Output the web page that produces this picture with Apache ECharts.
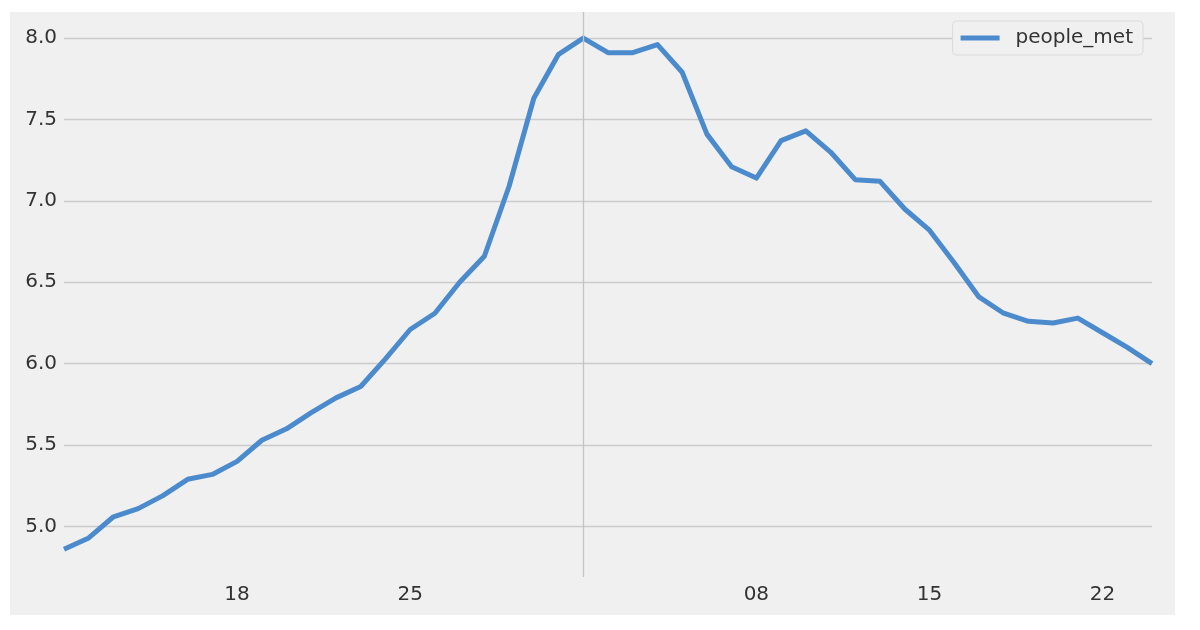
<!DOCTYPE html>
<html>
<head>
<meta charset="utf-8">
<script src="https://cdn.jsdelivr.net/npm/echarts@6/dist/echarts.min.js"></script>
<style>
  html, body { margin: 0; padding: 0; background: #ffffff; }
  #bg { position: absolute; left: 10px; top: 12px; width: 1165px; height: 603px; background: #f0f0f0; }
  #chart { position: absolute; left: 0; top: 0; width: 1200px; height: 630px; }
</style>
</head>
<body>
<div id="bg"></div>
<div id="chart"></div>
<script>
// Daily dates (2021-01-11 .. 2021-02-24)
const dates = [
  '2021-01-11','2021-01-12','2021-01-13','2021-01-14','2021-01-15','2021-01-16','2021-01-17',
  '2021-01-18','2021-01-19','2021-01-20','2021-01-21','2021-01-22','2021-01-23','2021-01-24',
  '2021-01-25','2021-01-26','2021-01-27','2021-01-28','2021-01-29','2021-01-30','2021-01-31',
  '2021-02-01','2021-02-02','2021-02-03','2021-02-04','2021-02-05','2021-02-06','2021-02-07',
  '2021-02-08','2021-02-09','2021-02-10','2021-02-11','2021-02-12','2021-02-13','2021-02-14',
  '2021-02-15','2021-02-16','2021-02-17','2021-02-18','2021-02-19','2021-02-20','2021-02-21',
  '2021-02-22','2021-02-23','2021-02-24'
];
const peopleMet = [
  4.86, 4.93, 5.06, 5.11, 5.19, 5.29, 5.32,
  5.40, 5.53, 5.60, 5.70, 5.79, 5.86, 6.03,
  6.21, 6.31, 6.50, 6.66, 7.09, 7.63, 7.90,
  8.00, 7.91, 7.91, 7.96, 7.79, 7.41, 7.21,
  7.14, 7.37, 7.43, 7.30, 7.13, 7.12, 6.95,
  6.82, 6.62, 6.41, 6.31, 6.26, 6.25, 6.28,
  6.19, 6.10, 6.00
];
const tickDates = ['2021-01-18','2021-01-25','2021-02-08','2021-02-15','2021-02-22'];
const monthStart = '2021-02-01';
const seriesName = 'people_met';

const chart = echarts.init(document.getElementById('chart'), null, { renderer: 'canvas' });
const font = 'DejaVu Sans';
chart.setOption({
  backgroundColor: 'transparent',
  animation: false,
  textStyle: { fontFamily: font },
  grid: { left: 64, right: 48, top: 12, bottom: 53, containLabel: false },
  legend: {
    right: 57, top: 21,
    data: [seriesName],
    icon: 'rect',
    itemWidth: 39, itemHeight: 5,
    padding: [7, 10, 7, 8],
    backgroundColor: '#f0f0f0',
    borderColor: '#dadada', borderWidth: 1, borderRadius: 4,
    textStyle: { fontFamily: font, fontSize: 20, color: '#333333', padding: [0, 0, 0, 11] }
  },
  xAxis: {
    type: 'category',
    data: dates,
    boundaryGap: false,
    axisLine: { show: false },
    axisTick: { show: false },
    splitLine: { show: false },
    axisLabel: {
      interval: (idx, val) => tickDates.includes(val),
      formatter: v => v.slice(8, 10),
      fontFamily: font, fontSize: 20, color: '#333333', margin: 8
    }
  },
  yAxis: {
    type: 'value',
    min: 4.69, max: 8.16,
    splitNumber: 6,
    axisLine: { show: false },
    axisTick: { show: false },
    axisLabel: {
      showMinLabel: false, showMaxLabel: false,
      formatter: v => v.toFixed(1),
      fontFamily: font, fontSize: 20, color: '#333333', margin: 7
    },
    splitLine: { show: true, showMinLine: false, showMaxLine: false, lineStyle: { color: '#cbcbcb', width: 1.3 } }
  },
  series: [{
    name: seriesName,
    type: 'line',
    data: peopleMet,
    showSymbol: false,
    symbol: 'none',
    lineStyle: { color: '#4b8bcd', width: 5, join: 'round' },
    itemStyle: { color: '#4b8bcd' },
    markLine: {
      silent: true,
      symbol: ['none', 'none'],
      label: { show: false },
      lineStyle: { color: '#c4c4c4', width: 1.3, type: 'solid' },
      data: [{ xAxis: monthStart }]
    },
    z: 3
  }]
});
</script>
</body>
</html>
